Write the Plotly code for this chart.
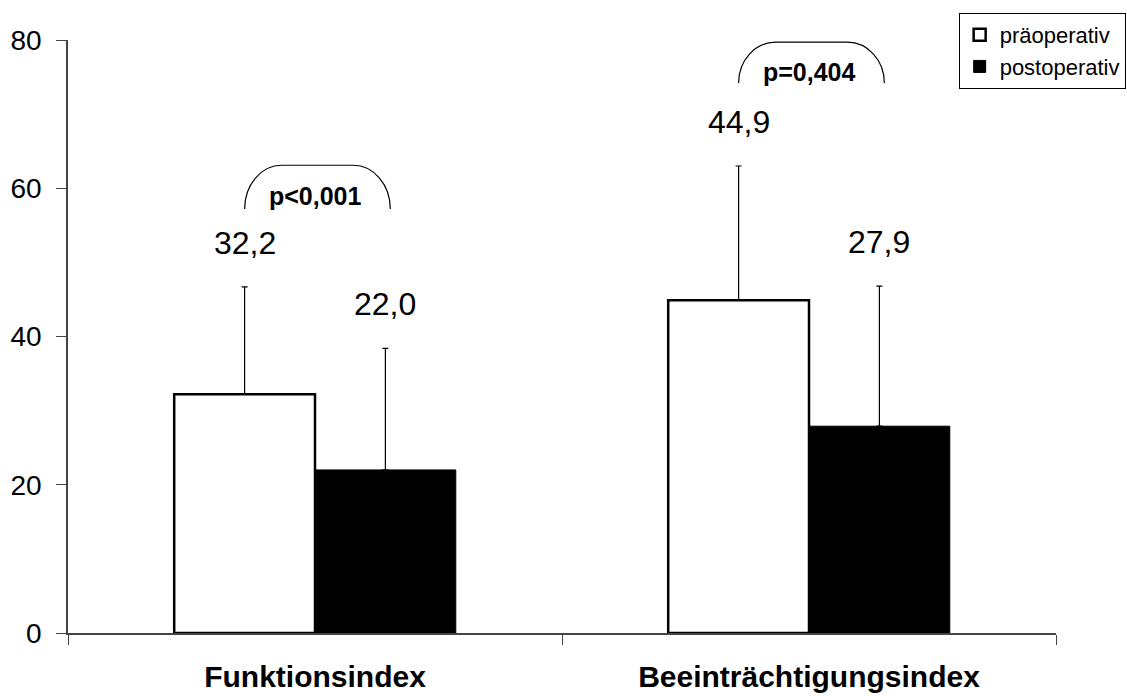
import plotly.graph_objects as go

categories = ["Funktionsindex", "Beeinträchtigungsindex"]
series_names = ["präoperativ", "postoperativ"]
pre_values = [32.2, 44.9]
post_values = [22.0, 27.9]
pre_sd = [14.5, 18.1]
post_sd = [16.4, 18.9]
p_labels = ["p<0,001", "p=0,404"]
bracket_bottom = [57.2, 74.2]
bracket_top = [63.1, 79.7]
p_text_y = [58.9, 75.7]
y_ticks = [0, 20, 40, 60, 80]

FONT = "Liberation Sans, Arial, Helvetica, sans-serif"
BARGAP = 0.43
W, H = 1127, 696
ML, MR, MT, MB = 68, 71, 40, 63

def fmt(v):
    return f"{v:.1f}".replace(".", ",")

fig = go.Figure()
fig.add_trace(go.Bar(
    name=series_names[0], x=categories, y=pre_values,
    marker=dict(color="white", line=dict(color="black", width=2.5)),
    error_y=dict(type="data", symmetric=False, array=pre_sd, arrayminus=[0, 0],
                 color="black", thickness=1.2, width=3),
))
fig.add_trace(go.Bar(
    name=series_names[1], x=categories, y=post_values,
    marker=dict(color="black", line=dict(color="black", width=1)),
    error_y=dict(type="data", symmetric=False, array=post_sd, arrayminus=[0, 0],
                 color="black", thickness=1.2, width=3),
))

offset = (1 - BARGAP) / 4
annotations = []
shapes = []
for i in range(len(categories)):
    for val, sd, dx in ((pre_values[i], pre_sd[i], -offset), (post_values[i], post_sd[i], offset)):
        annotations.append(dict(
            x=i + dx, y=val + sd, xref="x", yref="y", text=fmt(val),
            showarrow=False, yanchor="middle", yshift=44,
            font=dict(family=FONT, size=32, color="black"),
        ))
    x0 = i - offset
    x1 = i + offset + 0.01
    yb, yt = bracket_bottom[i], bracket_top[i]
    dxc = 0.075
    k = 0.5523
    path = (f"M {x0},{yb} C {x0},{yb + k * (yt - yb)} {x0 + dxc - k * dxc},{yt} {x0 + dxc},{yt} "
            f"L {x1 - dxc},{yt} C {x1 - dxc + k * dxc},{yt} {x1},{yb + k * (yt - yb)} {x1},{yb}")
    shapes.append(dict(type="path", path=path, xref="x", yref="y",
                       line=dict(color="black", width=1.2)))
    annotations.append(dict(
        x=i, y=p_text_y[i], xref="x", yref="y", text=p_labels[i],
        showarrow=False, yanchor="middle",
        font=dict(family=FONT, size=25, color="black", weight="bold"),
    ))

fig.update_layout(
    width=W, height=H,
    margin=dict(l=ML, r=MR, t=MT, b=MB, autoexpand=False),
    paper_bgcolor="white", plot_bgcolor="white",
    barmode="group", bargap=BARGAP, bargroupgap=0,
    separators=",.",
    showlegend=True,
    legend=dict(x=1.0705, y=1.0455, xanchor="right", yanchor="top",
                bgcolor="white", bordercolor="black", borderwidth=1,
                font=dict(family=FONT, size=22, color="black"),
                tracegroupgap=0, itemwidth=30),
    annotations=annotations,
    shapes=shapes,
    font=dict(family=FONT, color="black"),
)
fig.update_xaxes(
    showline=True, linecolor="#444", linewidth=1.5,
    ticks="outside", tickson="boundaries", ticklen=10, tickcolor="#444",
    showgrid=False, ticklabelstandoff=16,
    tickfont=dict(family=FONT, size=30, color="black", weight="bold"),
)
fig.update_yaxes(
    range=[0, 80], tickvals=y_ticks, ticks="outside", ticklen=10, tickcolor="#444",
    showline=True, linecolor="#444", linewidth=1.5,
    showgrid=False, zeroline=False, ticklabelstandoff=9,
    tickfont=dict(family=FONT, size=28, color="black"),
)

fig.write_html("out.html")
